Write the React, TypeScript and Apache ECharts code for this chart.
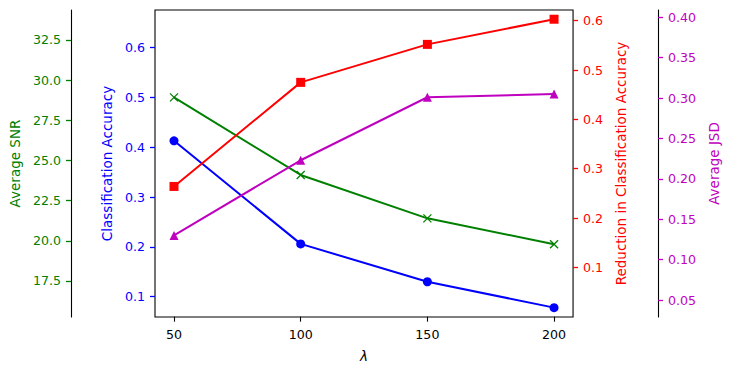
import React, { useEffect, useRef } from "react";
import * as echarts from "echarts";

const lambdas = [50, 100, 150, 200];
const accuracy = [0.413, 0.206, 0.13, 0.078];
const snr = [28.93, 24.1, 21.4, 19.79];
const reduction = [0.264, 0.475, 0.552, 0.603];
const jsd = [0.13, 0.223, 0.301, 0.305];

const xTicks = [50, 100, 150, 200];
const accTicks = [0.1, 0.2, 0.3, 0.4, 0.5, 0.6];
const snrTicks = [17.5, 20.0, 22.5, 25.0, 27.5, 30.0, 32.5];
const redTicks = [0.1, 0.2, 0.3, 0.4, 0.5, 0.6];
const jsdTicks = [0.05, 0.1, 0.15, 0.2, 0.25, 0.3, 0.35, 0.4];

const FONT = "DejaVu Sans";
const TICK_FS = 12.6;
const NAME_FS = 13.5;

const GREEN = "#008000";
const BLUE = "#0000ff";
const RED = "#ff0000";
const MAG = "#bf00bf";

function yAxis(opts: {
  color: string;
  name: string;
  position: "left" | "right";
  offset: number;
  min: number;
  max: number;
  ticks: number[];
  digits: number;
  nameGap: number;
  showLine: boolean;
}) {
  return {
    type: "value",
    position: opts.position,
    offset: opts.offset,
    min: opts.min,
    max: opts.max,
    name: opts.name,
    nameLocation: "middle",
    nameRotate: 90,
    nameGap: opts.nameGap,
    nameTextStyle: { color: opts.color, fontSize: NAME_FS, fontFamily: FONT },
    axisLine: { show: opts.showLine, lineStyle: { color: "#000", width: 1.1 } },
    axisTick: {
      show: true,
      inside: false,
      length: 5,
      customValues: opts.ticks,
      lineStyle: { color: opts.color, width: 1.3 },
    },
    axisLabel: {
      show: true,
      margin: 10,
      customValues: opts.ticks,
      color: opts.color,
      fontSize: TICK_FS,
      fontFamily: FONT,
      formatter: (v: number) => v.toFixed(opts.digits),
    },
    splitLine: { show: false },
  };
}

export default function App() {
  const ref = useRef<HTMLDivElement>(null);
  useEffect(() => {
    if (!ref.current) return;
    const chart = echarts.init(ref.current, null, { renderer: "svg" });
    const mk = (ys: number[]) => lambdas.map((x, i) => [x, ys[i]]);
    chart.setOption({
      animation: false,
      backgroundColor: "#fff",
      grid: {
        left: 155,
        right: 155,
        top: 10,
        bottom: 55,
        show: true,
        borderColor: "#000",
        borderWidth: 1.1,
        backgroundColor: "transparent",
      },
      xAxis: {
        type: "value",
        min: 42.5,
        max: 207.5,
        name: "λ",
        nameLocation: "middle",
        nameGap: 32,
        nameTextStyle: { color: "#000", fontSize: NAME_FS, fontFamily: FONT, fontStyle: "italic" },
        axisLine: { show: false },
        axisTick: { show: true, inside: false, length: 5, customValues: xTicks, lineStyle: { color: "#000", width: 1.1 } },
        axisLabel: {
          show: true,
          margin: 11,
          customValues: xTicks,
          color: "#000",
          fontSize: TICK_FS,
          fontFamily: FONT,
        },
        splitLine: { show: false },
      },
      yAxis: [
        yAxis({ color: BLUE, name: "Classification Accuracy", position: "left", offset: 0, min: 0.0592, max: 0.6757, ticks: accTicks, digits: 1, nameGap: 40, showLine: false }),
        yAxis({ color: GREEN, name: "Average SNR", position: "left", offset: 84, min: 15.259, max: 34.367, ticks: snrTicks, digits: 1, nameGap: 49, showLine: true }),
        yAxis({ color: RED, name: "Reduction in Classification Accuracy", position: "right", offset: 0, min: -0.0007, max: 0.6217, ticks: redTicks, digits: 1, nameGap: 32, showLine: false }),
        yAxis({ color: MAG, name: "Average JSD", position: "right", offset: 85, min: 0.029, max: 0.409, ticks: jsdTicks, digits: 2, nameGap: 41, showLine: true }),
      ],
      series: [
        {
          type: "line",
          yAxisIndex: 0,
          data: mk(accuracy),
          symbol: "circle",
          symbolSize: 9,
          lineStyle: { color: BLUE, width: 2 },
          itemStyle: { color: BLUE },
        },
        {
          type: "line",
          yAxisIndex: 1,
          data: mk(snr),
          symbol: "path://M0,0L10,10M10,0L0,10",
          symbolSize: 8,
          lineStyle: { color: GREEN, width: 2 },
          itemStyle: { color: GREEN, borderColor: GREEN, borderWidth: 1.3 },
        },
        {
          type: "line",
          yAxisIndex: 2,
          data: mk(reduction),
          symbol: "rect",
          symbolSize: 9,
          lineStyle: { color: RED, width: 2 },
          itemStyle: { color: RED },
        },
        {
          type: "line",
          yAxisIndex: 3,
          data: mk(jsd),
          symbol: "triangle",
          symbolSize: 9,
          lineStyle: { color: MAG, width: 2 },
          itemStyle: { color: MAG },
        },
      ],
    });
    return () => chart.dispose();
  }, []);
  return (
    <div
      ref={ref}
      style={{ position: "absolute", left: 0, top: 0, width: 729, height: 372 }}
    />
  );
}
